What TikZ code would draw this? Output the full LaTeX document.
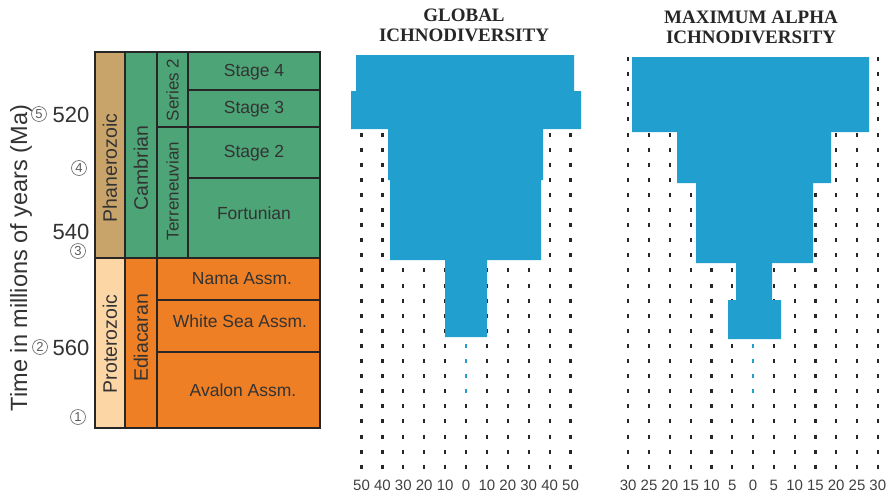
\documentclass[tikz,border=0pt]{standalone}
\usepackage{fontspec}
\setmainfont{Liberation Serif}
\setsansfont{Liberation Sans}
\usepackage{xcolor}
\usepackage{tikz}

\definecolor{phancol}{HTML}{C9A46A}
\definecolor{protcol}{HTML}{FDD6A6}
\definecolor{cambcol}{HTML}{4DA477}
\definecolor{ediacol}{HTML}{EE7F24}
\definecolor{ichnocol}{HTML}{219FCF}
\definecolor{inkcol}{HTML}{333333}

\tikzset{
  unit/.style={draw=black!85, line width=1.3pt},
  vlab/.style={rotate=90, text=inkcol, font=\sffamily\fontsize{19.5}{19.5}\selectfont},
  slab/.style={rotate=90, text=inkcol, font=\sffamily\fontsize{17}{17}\selectfont},
  hlab/.style={text=inkcol, font=\sffamily\fontsize{17.5}{17.5}\selectfont},
  agelab/.style={text=inkcol, font=\sffamily\fontsize{22}{22}\selectfont},
  circnum/.style={circle, draw=black!55, line width=0.7pt, inner sep=0pt, minimum size=15pt,
    text=black!65, font=\sffamily\fontsize{13}{13}\selectfont},
  dotline/.style={draw=black!85, line width=2.2pt, dash pattern=on 4pt off 11.1pt},
  bluedot/.style={draw=ichnocol, line width=2pt, dash pattern=on 4pt off 11.1pt},
  ticklab/.style={text=black!75, font=\sffamily\fontsize{15}{15}\selectfont},
  charttitle/.style={align=center, text=black!85, font=\rmfamily\bfseries\fontsize{19}{20}\selectfont}
}

\begin{document}
\begin{tikzpicture}[x=1pt,y=-1pt]
	\useasboundingbox (0,0) rectangle (893,496);

	% Time scale boxes
	\foreach \xa/\ya/\xb/\yb/\col in {95/52/125/258/phancol, 95/258/125/428/protcol,
		125/52/157/258/cambcol, 125/258/157/428/ediacol,
		157/52/188/127/cambcol, 157/127/188/258/cambcol,
		188/52/320/90/cambcol, 188/90/320/127/cambcol, 188/127/320/178/cambcol, 188/178/320/258/cambcol,
		157/258/320/300/ediacol, 157/300/320/352/ediacol, 157/352/320/428/ediacol} {
		\filldraw[unit, fill=\col] (\xa,\ya) rectangle (\xb,\yb);
	}

	% Vertical names
	\node[vlab] (phan) at (110,168) {Phanerozoic};
	\node[vlab] (prot) at (110,344) {Proterozoic};
	\node[vlab] (camb) at (141,168) {Cambrian};
	\node[vlab] (edia) at (141,338) {Ediacaran};
	\node[slab] (ser2) at (172.5,90) {Series 2};
	\node[slab] (terr) at (172.5,191) {Terreneuvian};

	% Stage names
	\node[hlab] (st4) at (254,72) {Stage 4};
	\node[hlab] (st3) at (254,109) {Stage 3};
	\node[hlab] (st2) at (254,153) {Stage 2};
	\node[hlab] (fort) at (254,213) {Fortunian};
	\node[hlab] (nama) at (242,279) {Nama Assm.};
	\node[hlab] (whse) at (240,321) {White Sea Assm.};
	\node[hlab] (aval) at (243,390) {Avalon Assm.};

	% Age axis
	\node[rotate=90, text=inkcol, font=\sffamily\fontsize{23.5}{23.5}\selectfont] (timelab) at (21,258) {Time in millions of years (Ma)};
	\node[agelab] (a520) at (71,115) {520};
	\node[agelab] (a540) at (71,232) {540};
	\node[agelab] (a560) at (71,348) {560};
	\node[circnum] (ev5) at (39,114) {5};
	\node[circnum] (ev4) at (79,168) {4};
	\node[circnum] (ev3) at (78,251) {3};
	\node[circnum] (ev2) at (40,347) {2};
	\node[circnum] (ev1) at (78,417) {1};

	% Global ichnodiversity
	\node[charttitle] (gtitle) at (464,25) {GLOBAL\\ICHNODIVERSITY};
	\foreach \v [count=\i] in {50,40,30,20,10,0,10,20,30,40,50} {
		\draw[dotline] ({466+20.9*(\i-6)},57) -- ({466+20.9*(\i-6)},470);
		\node[ticklab] (gtick\i) at ({466+20.9*(\i-6)},485) {\v};
	}
	\fill[ichnocol] (356,55) rectangle (574,91) (351,91) rectangle (581,129)
		(388,129) rectangle (543,180) (390,180) rectangle (541,260) (445,260) rectangle (487,337);
	\draw[bluedot] (466,344) -- (466,394.6);

	% Maximum alpha ichnodiversity
	\node[charttitle] (atitle) at (751,27) {MAXIMUM ALPHA\\ICHNODIVERSITY};
	\foreach \v [count=\i] in {30,25,20,15,10,5,0,5,10,15,20,25,30} {
		\draw[dotline] ({753+20.8*(\i-7)},57) -- ({753+20.8*(\i-7)},470);
		\node[ticklab] (atick\i) at ({753+20.8*(\i-7)},485) {\v};
	}
	\fill[ichnocol] (632,57) rectangle (869,132) (677,132) rectangle (831,183)
		(696,183) rectangle (813,263) (736,263) rectangle (772,300) (728,300) rectangle (781,339);
	\draw[bluedot] (753,344) -- (753,394.6);
\end{tikzpicture}
\end{document}
